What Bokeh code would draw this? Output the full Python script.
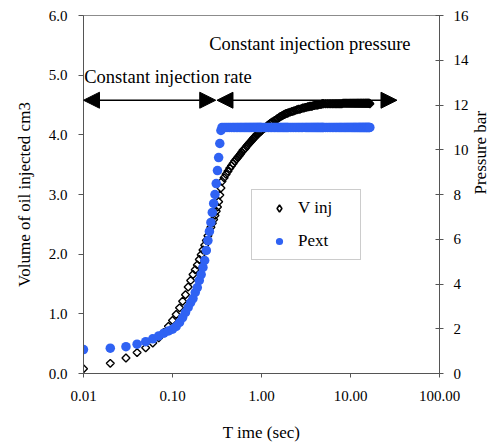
import math
from bokeh.plotting import figure
from bokeh.models import (Range1d, LinearAxis, FixedTicker, PrintfTickFormatter,
                          Arrow, NormalHead, Label, Legend, LegendItem, ColumnDataSource)
from bokeh.embed import file_html
from bokeh.resources import INLINE

# ---------------- data ----------------
time_s = [0.01, 0.02, 0.03, 0.04, 0.05, 0.06, 0.07, 0.08, 0.09, 0.10,
          0.11, 0.12, 0.13, 0.14, 0.15, 0.16, 0.17, 0.18, 0.19, 0.20,
          0.21, 0.22, 0.23, 0.24, 0.25, 0.26, 0.27, 0.28, 0.29, 0.30,
          0.31, 0.32, 0.33, 0.34, 0.35, 0.36,
          0.38, 0.40, 0.42, 0.44, 0.46, 0.48, 0.50, 0.52, 0.54, 0.56,
          0.58, 0.60, 0.62, 0.64, 0.66, 0.68, 0.70, 0.72, 0.74, 0.76,
          0.78, 0.80, 0.82, 0.84, 0.86, 0.88, 0.90, 0.92, 0.94, 0.96,
          0.98, 1.00,
          1.05, 1.10, 1.15, 1.20, 1.25, 1.30, 1.35, 1.40, 1.45, 1.50,
          1.55, 1.60, 1.65, 1.70, 1.75, 1.80, 1.85, 1.90, 1.95, 2.00,
          2.1, 2.2, 2.3, 2.4, 2.5, 2.6, 2.7, 2.8, 2.9, 3.0,
          3.1, 3.2, 3.3, 3.4, 3.5, 3.6, 3.7, 3.8, 3.9, 4.0,
          4.1, 4.2, 4.3, 4.4, 4.5, 4.6, 4.7, 4.8, 4.9, 5.0,
          5.25, 5.5, 5.75, 6.0, 6.25, 6.5, 6.75, 7.0, 7.25, 7.5,
          7.75, 8.0, 8.25, 8.5, 8.75, 9.0, 9.25, 9.5, 9.75, 10.0,
          10.25, 10.5, 10.75, 11.0, 11.25, 11.5, 11.75, 12.0, 12.25, 12.5,
          12.75, 13.0, 13.25, 13.5, 13.75, 14.0, 14.25, 14.5, 14.75, 15.0,
          15.25, 15.5, 15.75, 16.0, 16.25, 16.5]

v_inj = [0.08, 0.17, 0.26, 0.35, 0.43, 0.51, 0.60, 0.69, 0.79, 0.89,
         0.99, 1.10, 1.21, 1.32, 1.45, 1.56, 1.66, 1.74, 1.82, 1.91,
         1.99, 2.07, 2.15, 2.23, 2.31, 2.38, 2.45, 2.52, 2.58, 2.65,
         2.72, 2.79, 2.88, 2.99, 3.11, 3.22,
         3.28, 3.34, 3.39, 3.44, 3.48, 3.52, 3.56, 3.59, 3.62, 3.65,
         3.68, 3.71, 3.74, 3.76, 3.78, 3.81, 3.83, 3.85, 3.87, 3.89,
         3.91, 3.93, 3.95, 3.96, 3.98, 4.00, 4.01, 4.02, 4.04, 4.05,
         4.06, 4.07,
         4.10, 4.12, 4.15, 4.17, 4.19, 4.21, 4.22, 4.24, 4.25, 4.27,
         4.28, 4.30, 4.31, 4.32, 4.33, 4.34, 4.35, 4.36, 4.36, 4.37,
         4.38, 4.39, 4.40, 4.41, 4.42, 4.43, 4.43, 4.44, 4.45, 4.45,
         4.46, 4.46, 4.47, 4.47, 4.48, 4.48, 4.48, 4.49, 4.49, 4.50,
         4.50, 4.50, 4.50, 4.51, 4.51, 4.51, 4.51, 4.52, 4.52, 4.52,
         4.52, 4.52, 4.52, 4.52, 4.52, 4.52, 4.52, 4.52, 4.52, 4.52,
         4.52, 4.52, 4.53, 4.53, 4.53, 4.53, 4.53, 4.53, 4.53, 4.53,
         4.53, 4.53, 4.53, 4.53, 4.53, 4.53, 4.53, 4.53, 4.53, 4.53,
         4.53, 4.53, 4.53, 4.53, 4.53, 4.53, 4.53, 4.53, 4.53, 4.53,
         4.53, 4.53, 4.53, 4.53, 4.53, 4.52]

p_ext = [1.07, 1.13, 1.20, 1.31, 1.42, 1.55, 1.68, 1.80, 1.90, 1.98,
         2.10, 2.28, 2.50, 2.73, 2.95, 3.17, 3.35, 3.62, 3.84, 4.16,
         4.42, 4.74, 5.05, 5.50, 5.94, 6.35, 6.75, 7.20, 7.60, 8.00,
         8.49, 9.07, 9.65, 10.28, 10.86, 11.0,
         11.0, 11.0, 11.0, 11.0, 11.0, 11.0, 11.0, 11.0, 11.0, 11.0,
         11.0, 11.0, 11.0, 11.0, 11.0, 11.0, 11.0, 11.0, 11.0, 11.0,
         11.0, 11.0, 11.0, 11.0, 11.0, 11.0, 11.0, 11.0, 11.0, 11.0,
         11.0, 11.0,
         11.0, 11.0, 11.0, 11.0, 11.0, 11.0, 11.0, 11.0, 11.0, 11.0,
         11.0, 11.0, 11.0, 11.0, 11.0, 11.0, 11.0, 11.0, 11.0, 11.0,
         11.0, 11.0, 11.0, 11.0, 11.0, 11.0, 11.0, 11.0, 11.0, 11.0,
         11.0, 11.0, 11.0, 11.0, 11.0, 11.0, 11.0, 11.0, 11.0, 11.0,
         11.0, 11.0, 11.0, 11.0, 11.0, 11.0, 11.0, 11.0, 11.0, 11.0,
         11.0, 11.0, 11.0, 11.0, 11.0, 11.0, 11.0, 11.0, 11.0, 11.0,
         11.0, 11.0, 11.0, 11.0, 11.0, 11.0, 11.0, 11.0, 11.0, 11.0,
         11.0, 11.0, 11.0, 11.0, 11.0, 11.0, 11.0, 11.0, 11.0, 11.0,
         11.0, 11.0, 11.0, 11.0, 11.0, 11.0, 11.0, 11.0, 11.0, 11.0,
         11.0, 11.0, 11.0, 11.0, 11.0, 11.0]

x_ticks = [0.01, 0.1, 1, 10, 100]
left_ticks = [0, 1, 2, 3, 4, 5, 6]
right_ticks = [0, 2, 4, 6, 8, 10, 12, 14, 16]

series_names = ["V inj", "Pext"]
x_title = "T ime (sec)"
left_title = "Volume of oil injected cm3"
right_title = "Pressure bar"
note_rate = "Constant injection rate"
note_pressure = "Constant injection pressure"

# ---------------- style ----------------
FONT = "Liberation Serif"
BLUE = "#2f62f3"
AXIS_COL = "#555555"

p = figure(width=502, height=444, x_axis_type="log",
           x_range=Range1d(0.01, 100), y_range=Range1d(0, 6),
           output_backend="svg", toolbar_location=None,
           min_border_left=83, min_border_right=59,
           min_border_top=15, min_border_bottom=71)
p.extra_y_ranges = {"pres": Range1d(0, 16)}
p.xgrid.visible = False
p.ygrid.visible = False
p.outline_line_color = "#8c8c8c"
p.outline_line_width = 1
p.background_fill_color = "white"
p.border_fill_color = "white"

# x axis
xa = p.xaxis[0]
xa.ticker = FixedTicker(ticks=x_ticks)
xa.formatter = PrintfTickFormatter(format="%.2f")
xa.axis_label = x_title
xa.major_tick_out = 4
xa.major_tick_in = 0
xa.minor_tick_line_color = None
xa.major_label_standoff = 13
xa.axis_label_standoff = 19

# left axis
ya = p.yaxis[0]
ya.ticker = FixedTicker(ticks=left_ticks)
ya.formatter = PrintfTickFormatter(format="%.1f")
ya.axis_label = left_title
ya.major_tick_out = 5
ya.major_tick_in = 0
ya.minor_tick_line_color = None
ya.major_label_standoff = 11
ya.axis_label_standoff = 12

# right axis
ra = LinearAxis(y_range_name="pres", ticker=FixedTicker(ticks=right_ticks),
                axis_label=right_title)
ra.major_tick_out = 4
ra.major_tick_in = 4
ra.minor_tick_line_color = None
ra.major_label_standoff = 10
ra.axis_label_standoff = 9
if "axis_label_orientation" in ra.properties():
    ra.axis_label_orientation = math.pi / 2
p.add_layout(ra, "right")

for ax in [xa, ya, ra]:
    ax.axis_line_color = AXIS_COL
    ax.major_tick_line_color = AXIS_COL
    ax.axis_label_text_font = FONT
    ax.axis_label_text_font_style = "normal"
    ax.axis_label_text_font_size = "17px"
    ax.axis_label_text_color = "black"
    ax.major_label_text_font = FONT
    ax.major_label_text_font_size = "15px"
    ax.major_label_text_color = "black"

# data: V inj drawn as fills first, then outlines (dense parts turn solid)
src = ColumnDataSource(dict(t=time_s, v=v_inj, p=p_ext))
p.scatter("t", "v", source=src, marker="square", angle=math.pi / 4,
          size=5.6, fill_color="white", line_color=None)
p.scatter("t", "v", source=src, marker="square", angle=math.pi / 4,
          size=5.6, fill_color=None, line_color="black", line_width=1.4)
p.scatter("t", "p", source=src, y_range_name="pres", marker="circle",
          size=9.5, fill_color=BLUE, line_color=None)

# legend glyphs (a single point placed outside the visible range)
leg_v = p.scatter(x=[1e-4], y=[-10], marker="diamond", size=10.5,
                  fill_color="white", line_color="black", line_width=1.6)
leg_p = p.scatter(x=[1e-4], y=[-10], marker="circle", size=10.5,
                  fill_color=BLUE, line_color=None)

# arrows
ARROW_Y = 4.58
for xs, xe in [(0.01, 0.306), (0.316, 33.3)]:
    p.add_layout(Arrow(
        start=NormalHead(size=16, fill_color="black", line_color="black"),
        end=NormalHead(size=16, fill_color="black", line_color="black"),
        x_start=xs, y_start=ARROW_Y, x_end=xe, y_end=ARROW_Y,
        line_color="black", line_width=1.5))

p.add_layout(Label(x=0.0102, y=4.97, text=note_rate, text_font=FONT,
                   text_font_size="18.5px", text_color="black",
                   text_baseline="alphabetic"))
p.add_layout(Label(x=0.258, y=5.52, text=note_pressure, text_font=FONT,
                   text_font_size="18.5px", text_color="black",
                   text_baseline="alphabetic"))

legend = Legend(items=[LegendItem(label=series_names[0], renderers=[leg_v]),
                       LegendItem(label=series_names[1], renderers=[leg_p])],
                location=(168, 113), orientation="vertical")
legend.label_text_font = FONT
legend.label_text_font_size = "17px"
legend.label_text_color = "black"
legend.border_line_color = "#999999"
legend.border_line_width = 1
legend.background_fill_color = "white"
legend.background_fill_alpha = 1
legend.padding = 8
legend.spacing = 13
legend.margin = 0
legend.glyph_width = 38
legend.glyph_height = 18
legend.label_height = 18
legend.label_width = 54
legend.label_standoff = 0
p.add_layout(legend)

open("out.html", "w").write(file_html(p, INLINE))
